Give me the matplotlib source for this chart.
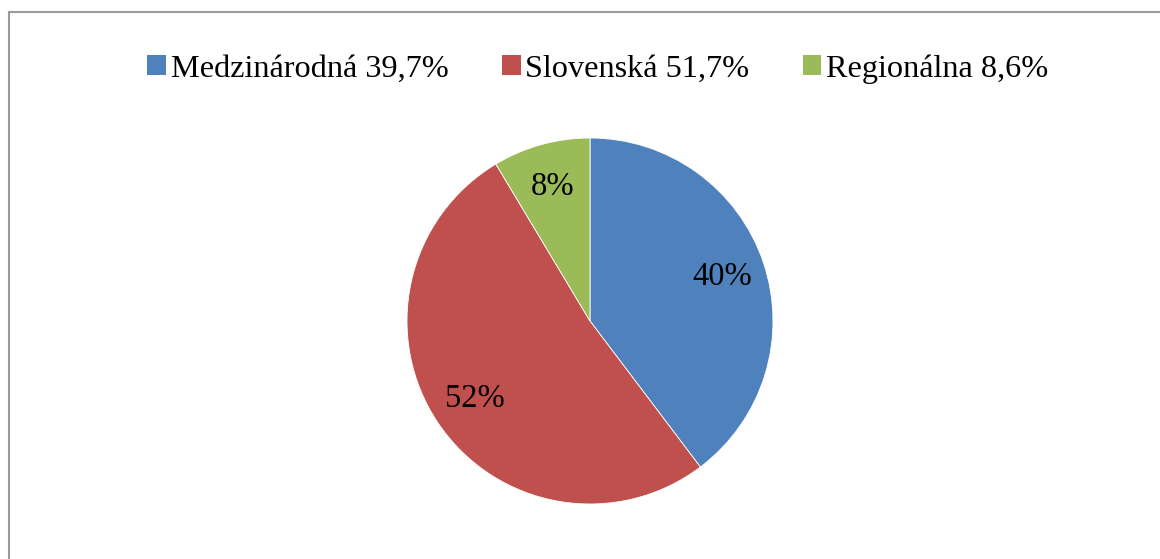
import matplotlib
matplotlib.use("Agg")
import matplotlib.pyplot as plt
from matplotlib.patches import Patch, Rectangle

categories = ["Medzinárodná 39,7%", "Slovenská 51,7%", "Regionálna 8,6%"]
values = [39.7, 51.7, 8.6]
labels = ["40%", "52%", "8%"]
colors = ["#4F81BD", "#C0504D", "#9BBB59"]

plt.rcParams['font.family'] = ['Liberation Serif', 'DejaVu Serif']

W, H = 1160, 559
fig = plt.figure(figsize=(W / 100, H / 100), dpi=100)
fig.patch.set_facecolor("white")

# outer chart border (only left and top visible in crop)
fig.patches.append(Rectangle((8.5 / W, -0.2), 1.5, 1.2 - 12 / H + 0.0,
                             transform=fig.transFigure, fill=False,
                             edgecolor="#9A9A9A", linewidth=1.5))

cx, cy, r = 590, 321, 183
ax = fig.add_axes([(cx - r) / W, (H - cy - r) / H, 2 * r / W, 2 * r / H])
wedges, texts = ax.pie(values, colors=colors, startangle=90, counterclock=False,
                       labels=labels, labeldistance=0.76,
                       wedgeprops=dict(edgecolor="white", linewidth=0.6),
                       textprops=dict(fontsize=23.5, color="black"))
for t in texts:
    t.set_horizontalalignment("center")
    t.set_verticalalignment("center")
ax.set_aspect("equal")
ax.set_xlim(-1, 1)
ax.set_ylim(-1, 1)
ax.axis("off")

handles = [Patch(facecolor=c, edgecolor="none") for c in colors]
fig.legend(handles, categories, loc="center", bbox_to_anchor=(598 / W, 1 - 69 / H),
           ncol=3, frameon=False, fontsize=23.2, handlelength=0.58, handleheight=0.58,
           handletextpad=0.15, columnspacing=1.65, borderpad=0)

fig.savefig("out.png", dpi=100, facecolor="white")
